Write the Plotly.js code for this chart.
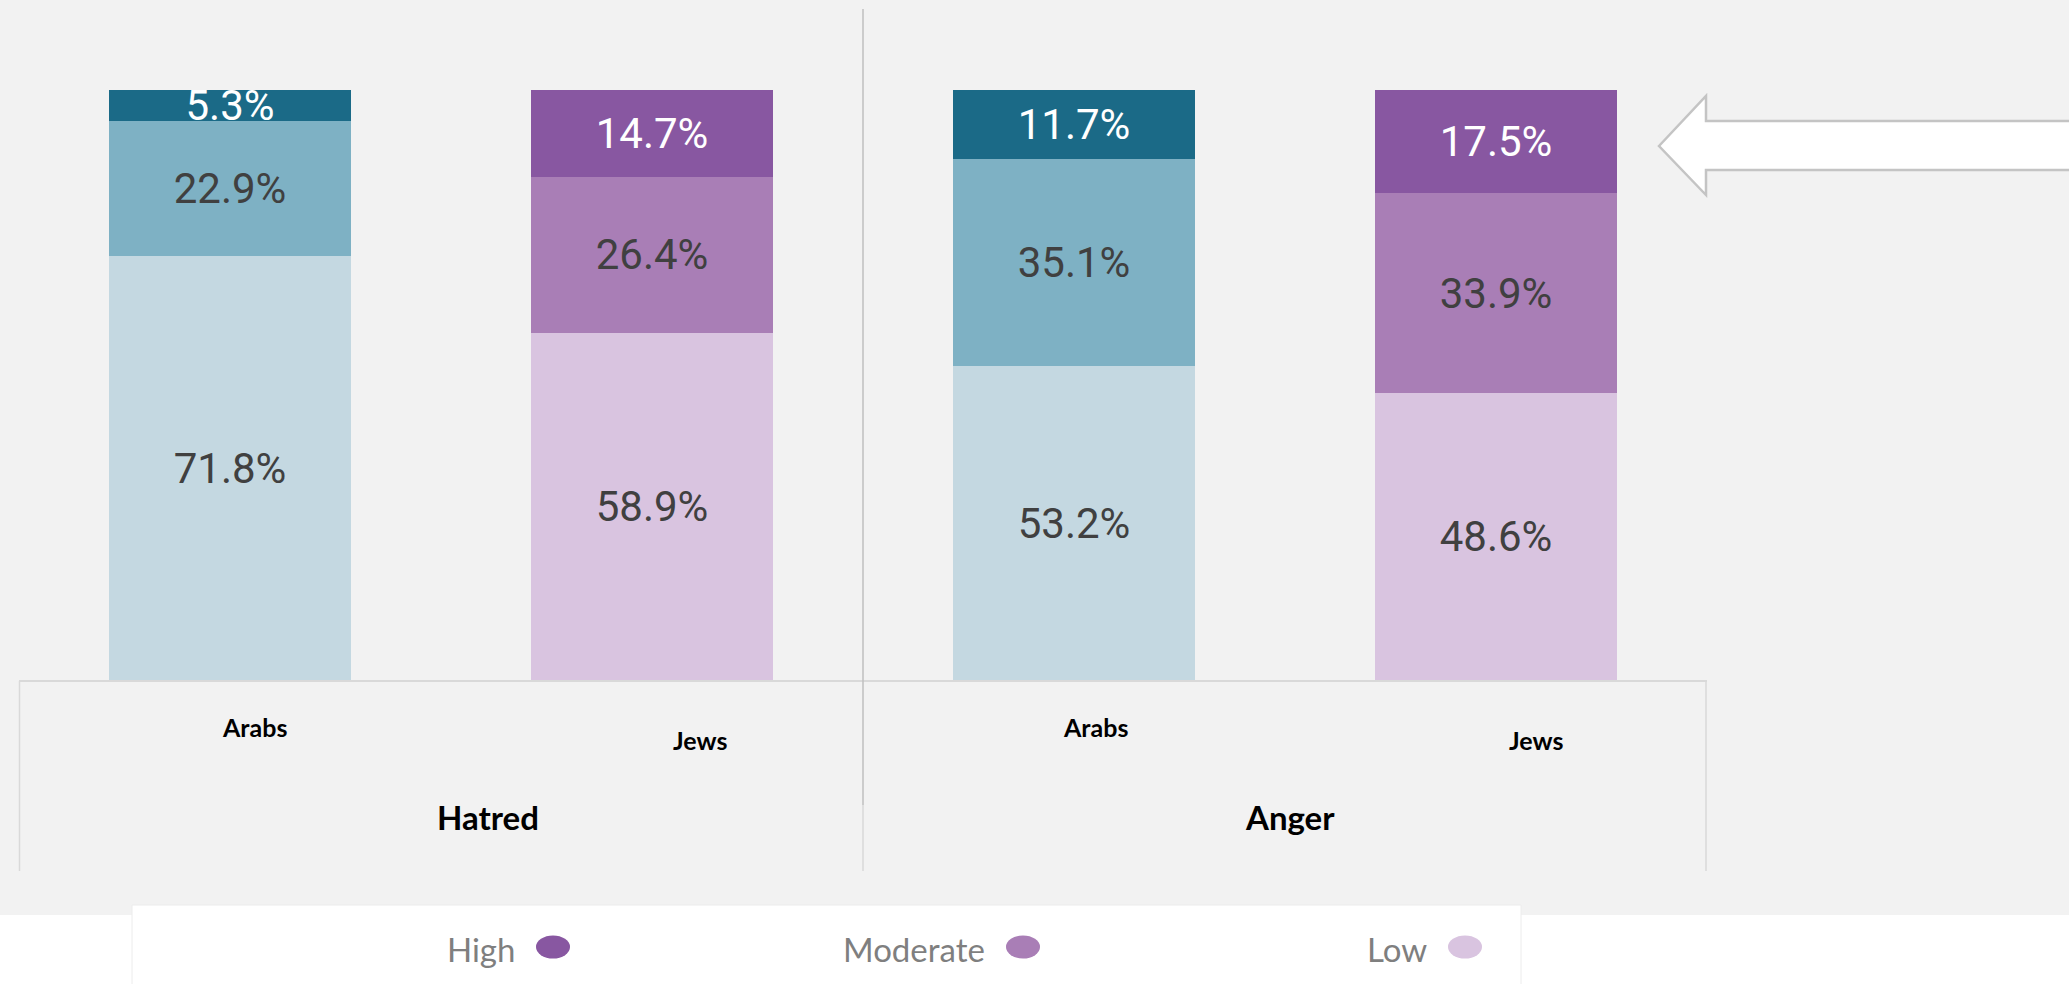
<!DOCTYPE html>
<html>
<head>
<meta charset="utf-8">
<script src="https://cdn.plot.ly/plotly-3.0.1.min.js"></script>
<style>
  html, body { margin: 0; padding: 0; background: #ffffff; }
  #chart { width: 2069px; height: 984px; }
</style>
</head>
<body>
<div id="chart"></div>
<script>
// ---- data ----
const groups = ['Hatred', 'Hatred', 'Anger', 'Anger'];
const subgroups = ['Arabs', 'Jews', 'Arabs', 'Jews'];
const groupNames = ['Hatred', 'Anger'];
const seriesNames = ['High', 'Moderate', 'Low'];
const high = [5.3, 14.7, 11.7, 17.5];
const moderate = [22.9, 26.4, 35.1, 33.9];
const low = [71.8, 58.9, 53.2, 48.6];

// ---- styles ----
const arabsColors = { High: '#1b6a87', Moderate: '#7eb1c4', Low: '#c4d8e1' };
const jewsColors = { High: '#8857a1', Moderate: '#a97eb6', Low: '#d9c4e0' };
const legendColors = jewsColors;

const W = 2069, H = 984;
const M = { l: 19, r: 362, t: 90, b: 304 };
const PW = W - M.l - M.r, PH = H - M.t - M.b;
const px = x => (x - M.l) / PW;          // pixel -> paper x
const py = y => (H - M.b - y) / PH;      // pixel -> paper y

const cats = groups.map((g, i) => g + ' · ' + subgroups[i]);
const colorsFor = name => subgroups.map(s => (s === 'Arabs' ? arabsColors : jewsColors)[name]);

function barTrace(name, vals, textColor) {
  return {
    type: 'bar',
    name: name,
    x: cats,
    y: vals,
    text: vals.map(v => v.toFixed(1) + '%'),
    textposition: 'inside',
    insidetextanchor: 'middle',
    constraintext: 'none',
    textangle: 0,
    cliponaxis: false,
    textfont: { family: 'Roboto, sans-serif', size: 42, color: textColor },
    marker: { color: colorsFor(name), line: { width: 0 } },
    hoverinfo: 'skip',
    showlegend: false
  };
}

const data = [
  barTrace('Low', low, '#404040'),
  barTrace('Moderate', moderate, '#404040'),
  barTrace('High', high, '#ffffff')
];

const frameColor = '#d9d9d9';
const shapes = [
  // gray page background (white below)
  { type: 'rect', xref: 'paper', yref: 'paper', x0: px(-5), x1: px(W + 5), y0: py(915), y1: py(-5),
    fillcolor: '#f2f2f2', line: { width: 0 }, layer: 'below' },
  // legend white box
  { type: 'rect', xref: 'paper', yref: 'paper', x0: px(132), x1: px(1521), y0: py(H + 10), y1: py(905),
    fillcolor: '#ffffff', line: { width: 1, color: '#ececec' }, layer: 'below' },
  // category axis frame
  { type: 'line', xref: 'paper', yref: 'paper', x0: px(19.5), x1: px(19.5), y0: py(681), y1: py(871),
    line: { color: frameColor, width: 1.5 } },
  { type: 'line', xref: 'paper', yref: 'paper', x0: px(1706), x1: px(1706), y0: py(681), y1: py(871),
    line: { color: frameColor, width: 1.5 } },
  { type: 'line', xref: 'paper', yref: 'paper', x0: px(863), x1: px(863), y0: py(805), y1: py(871),
    line: { color: frameColor, width: 1.5 } },
  // group divider
  { type: 'line', xref: 'paper', yref: 'paper', x0: px(863), x1: px(863), y0: py(9), y1: py(805),
    line: { color: '#bfbfbf', width: 1.5 } },
  // block arrow pointing left
  { type: 'path', xref: 'paper', yref: 'paper',
    path: 'M' + px(1659) + ',' + py(146) +
          ' L' + px(1706) + ',' + py(96) +
          ' L' + px(1706) + ',' + py(121) +
          ' L' + px(2080) + ',' + py(121) +
          ' L' + px(2080) + ',' + py(170) +
          ' L' + px(1706) + ',' + py(170) +
          ' L' + px(1706) + ',' + py(195) + ' Z',
    fillcolor: '#ffffff', line: { color: '#c4c4c4', width: 2.5 } }
];

const annotations = [];
// subgroup labels (Excel-like staggering)
const subShift = [24, 48, 21, 40];
const subY = [727, 740, 727, 740];
cats.forEach((c, i) => {
  annotations.push({
    xref: 'x', yref: 'paper', x: i, y: py(subY[i]), xshift: subShift[i],
    text: subgroups[i], showarrow: false, xanchor: 'center', yanchor: 'middle',
    font: { family: 'Lato, sans-serif', size: 25, color: '#000000', weight: 700 }
  });
});
// group labels
const groupPos = [0.5, 2.5];
const groupShift = [47, 5];
groupNames.forEach((g, i) => {
  annotations.push({
    xref: 'x', yref: 'paper', x: groupPos[i], y: py(817), xshift: groupShift[i],
    text: g, showarrow: false, xanchor: 'center', yanchor: 'middle',
    font: { family: 'Lato, sans-serif', size: 33, color: '#000000', weight: 700 }
  });
});
// custom legend: text then ellipse marker
const legTextRight = [517, 987, 1429];
const legMarkerCx = [553, 1023, 1465];
seriesNames.forEach((s, i) => {
  annotations.push({
    xref: 'paper', yref: 'paper', x: px(legTextRight[i]), y: py(949),
    text: s, showarrow: false, xanchor: 'right', yanchor: 'middle',
    font: { family: 'Lato, sans-serif', size: 33, color: '#7f7f7f' }
  });
  shapes.push({
    type: 'circle', xref: 'paper', yref: 'paper',
    x0: px(legMarkerCx[i] - 17), x1: px(legMarkerCx[i] + 17),
    y0: py(947 + 11.5), y1: py(947 - 11.5),
    fillcolor: legendColors[s], line: { width: 0 }
  });
});

const layout = {
  width: W, height: H,
  margin: M,
  paper_bgcolor: '#ffffff',
  plot_bgcolor: 'rgba(0,0,0,0)',
  barmode: 'stack',
  bargap: 0.4265,
  showlegend: false,
  xaxis: {
    type: 'category', range: [-0.5, 3.5], showticklabels: false, ticks: '',
    showgrid: false, zeroline: false, showline: true, linecolor: frameColor, linewidth: 1.5,
    fixedrange: true
  },
  yaxis: {
    // tiny headroom so the 100% stacks (float sums like 100.00000000000001) keep their labels
    range: [0, 100.01], visible: false, showgrid: false, zeroline: false, fixedrange: true
  },
  shapes: shapes,
  annotations: annotations
};

Plotly.newPlot('chart', data, layout, { displayModeBar: false, staticPlot: true });
</script>
</body>
</html>
